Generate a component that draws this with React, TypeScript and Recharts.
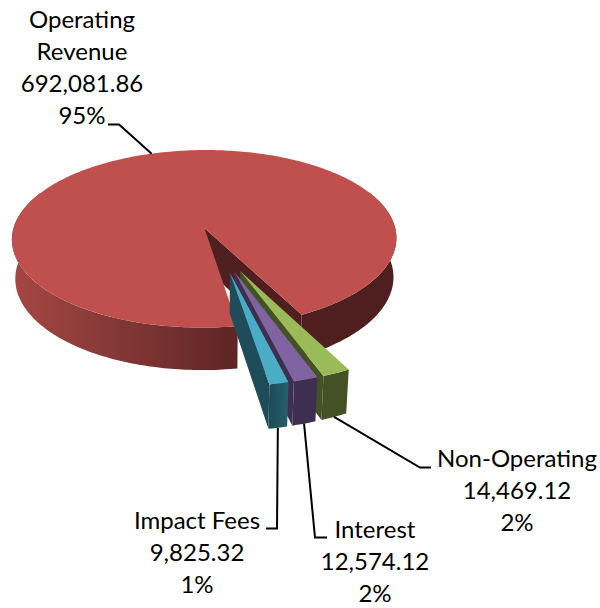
import { PieChart, Pie } from 'recharts'

const names = ['Operating Revenue', 'Non-Operating', 'Interest', 'Impact Fees']
const values = [692081.86, 14469.12, 12574.12, 9825.32]
const data = names.map((name, i) => ({ name, value: values[i] }))

const topColors = ['#c0504d', '#9bbb59', '#8064a2', '#4bacc6']
const innerColors = ['#4f1f1f', '#435125', '#3d2f50', '#1f4c59']
const outerFills = ['url(#redWall)', '#435125', '#3d2f50', 'url(#tealWall)']

// label layout: centre x, first baseline, line breaks
const labelBoxes = [
  { x: 82, y: 28, lines: ['Operating', 'Revenue'] },
  { x: 517, y: 467, lines: ['Non-Operating'] },
  { x: 375, y: 538, lines: ['Interest'] },
  { x: 197, y: 529, lines: ['Impact Fees'] },
]
const leaderElbows = [
  [[119, 124.5], [108, 124.5]],
  [[420, 467.5], [431, 467.5]],
  [[315, 537.5], [327, 537.5]],
  [[277, 528.5], [266, 528.5]],
]

// fake 3D projection of the pie plane
const EXPLODE = 0.25
const PERSP = 0.126
const TILT = 0.472
const DEPTH = 0.206
const SINK = 0.017
const RAD = Math.PI / 180

function point(p: any, angle: number, r: number, low = false) {
  const mid = ((p.startAngle + p.endAngle) / 2) * RAD
  const a = angle * RAD
  const u = EXPLODE * Math.cos(mid) + r * Math.cos(a)
  const v = -EXPLODE * Math.sin(mid) - r * Math.sin(a)
  const w = 1 - PERSP * v + (low ? SINK : 0)
  const R = p.outerRadius
  return {
    x: p.cx + (R * u) / w,
    y: p.cy + (R * TILT * v) / w + (low ? R * DEPTH : 0) / w,
  }
}

function arc(p: any, from: number, to: number, low = false) {
  const n = Math.max(2, Math.ceil(Math.abs(to - from)))
  const pts = []
  for (let i = 0; i <= n; i++) pts.push(point(p, from + ((to - from) * i) / n, 1, low))
  return pts
}

const toPath = (pts: { x: number; y: number }[]) =>
  'M' + pts.map((q) => `${q.x.toFixed(2)},${q.y.toFixed(2)}`).join('L') + 'Z'

function Slice3D(p: any) {
  const i = names.indexOf(p.name)
  const { startAngle: s, endAngle: e } = p
  const inner = [point(p, e, 0), point(p, e, 1), point(p, e, 1, true), point(p, e, 0, true)]
  // rim facing the viewer, a bit past the sides because of the perspective
  const rims = [
    [Math.min(s, 25), Math.max(e, -205)],
    [Math.min(s, -335), Math.max(e, -565)],
  ].filter(([a, b]) => a > b)
  return (
    <g>
      <path d={toPath(inner)} fill={innerColors[i]} />
      {rims.map(([a, b]) => (
        <path
          key={a}
          d={toPath([...arc(p, a, b), ...arc(p, b, a, true)])}
          fill={i === 0 && a <= -335 ? innerColors[0] : outerFills[i]}
        />
      ))}
      <path d={toPath([point(p, s, 0), ...arc(p, s, e)])} fill={topColors[i]} />
    </g>
  )
}

function SliceLabel(p: any) {
  const i = names.indexOf(p.name)
  const box = labelBoxes[i]
  const lines = [
    ...box.lines,
    p.value.toLocaleString('en-US', { minimumFractionDigits: 2 }),
    `${Math.round(p.percent * 100)}%`,
  ]
  return (
    <text x={box.x} textAnchor="middle" fontFamily="Lato" fontSize={24} fill="#000">
      {lines.map((line, k) => (
        <tspan key={k} x={box.x} y={box.y + k * 32}>
          {line}
        </tspan>
      ))}
    </text>
  )
}

function Leader(p: any) {
  const i = names.indexOf(p.name)
  const mid = (p.startAngle + p.endAngle) / 2
  const start = point(p, mid, 1, i !== 0)
  const pts = [[start.x, start.y], ...leaderElbows[i]]
  return <polyline points={pts.join(' ')} fill="none" stroke="#000" strokeWidth={2} />
}

export default function App() {
  return (
    <div style={{ position: 'absolute', left: 0, top: 0 }}>
      <PieChart width={600} height={608} margin={{ top: 0, right: 0, bottom: 0, left: 0 }}>
        <defs>
          <linearGradient id="redWall" gradientUnits="userSpaceOnUse" x1="12" y1="0" x2="240" y2="0">
            <stop offset="0%" stopColor="#a54744" />
            <stop offset="100%" stopColor="#5c2524" />
          </linearGradient>
          <linearGradient id="tealWall" gradientUnits="userSpaceOnUse" x1="270" y1="0" x2="290" y2="0">
            <stop offset="0%" stopColor="#1f4c59" />
            <stop offset="100%" stopColor="#26606f" />
          </linearGradient>
        </defs>
        <Pie
          data={data}
          dataKey="value"
          nameKey="name"
          cx={219.5}
          cy={249.3}
          outerRadius={196.5}
          startAngle={-80.6}
          endAngle={-440.6}
          stroke="none"
          isAnimationActive={false}
          shape={Slice3D}
          label={SliceLabel}
          labelLine={Leader}
        />
      </PieChart>
    </div>
  )
}
